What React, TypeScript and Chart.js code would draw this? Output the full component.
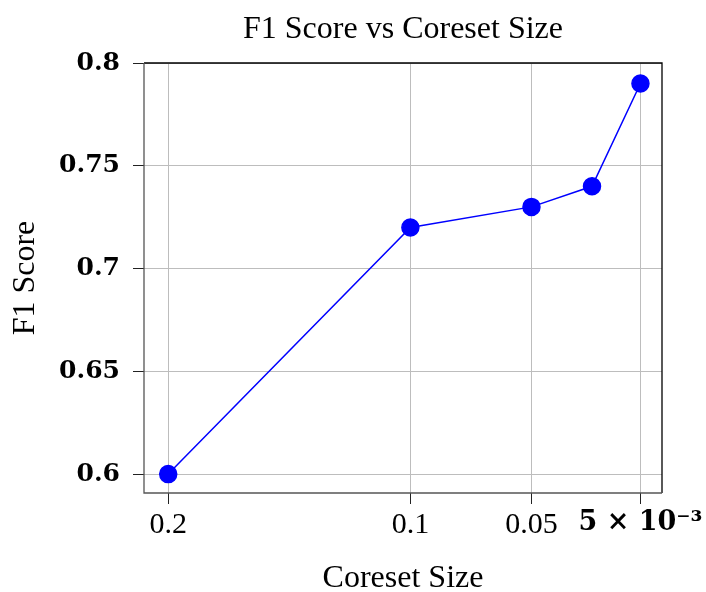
import React, { useEffect, useRef } from "react";
import { Chart, registerables } from "chart.js";

Chart.register(...registerables);

const chartTitle = "F1 Score vs Coreset Size";
const coresetSizes = [0.2, 0.1, 0.05, 0.025, 0.005];
const f1Scores = [0.6, 0.72, 0.73, 0.74, 0.79];
const xTickValues = [0.2, 0.1, 0.05, 0.005];
const xTickLabels = ["0.2", "0.1", "0.05", "5 × 10⁻³"];
const yTickValues = [0.6, 0.65, 0.7, 0.75, 0.8];
const yTickLabels = ["0.6", "0.65", "0.7", "0.75", "0.8"];

const frame = {
  id: "frame",
  afterDraw(chart: any) {
    const { ctx, chartArea: a } = chart;
    ctx.save();
    ctx.strokeStyle = "#000";
    ctx.lineWidth = 1.3;
    ctx.beginPath();
    ctx.moveTo(a.left, a.top);
    ctx.lineTo(a.right, a.top);
    ctx.lineTo(a.right, a.bottom);
    ctx.stroke();
    ctx.strokeStyle = "#555";
    ctx.beginPath();
    ctx.moveTo(a.left, a.top);
    ctx.lineTo(a.left, a.bottom);
    ctx.lineTo(a.right, a.bottom);
    ctx.stroke();
    ctx.fillStyle = "#000";
    ctx.font = "normal 32px 'Liberation Serif'";
    ctx.textAlign = "center";
    ctx.textBaseline = "middle";
    ctx.fillText(chartTitle, (a.left + a.right) / 2, 30);
    ctx.restore();
  },
};

export default function App() {
  const ref = useRef<HTMLCanvasElement>(null);
  useEffect(() => {
    document.body.style.margin = "0";
    const chart = new Chart(ref.current!, {
      type: "line",
      data: {
        datasets: [
          {
            data: coresetSizes.map((x, i) => ({ x, y: f1Scores[i] })),
            borderColor: "#0000ff",
            backgroundColor: "#0000ff",
            borderWidth: 1.5,
            pointRadius: 8.5,
            pointBackgroundColor: "#0000ff",
            pointBorderColor: "#0000ff",
            tension: 0,
          },
        ],
      },
      options: {
        responsive: false,
        animation: false,
        layout: { padding: { left: 0, right: 44, top: 63, bottom: 0 } },
        plugins: {
          legend: { display: false },
          tooltip: { enabled: false },
          title: { display: false },
        },
        scales: {
          x: {
            type: "linear",
            reverse: true,
            min: -0.0039,
            max: 0.21,
            afterFit: (s: any) => {
              s.height = 99;
              s.paddingLeft = 0;
              s.paddingRight = 0;
            },
            afterBuildTicks: (s: any) => {
              s.ticks = xTickValues.map((v) => ({ value: v }));
            },
            ticks: {
              autoSkip: false,
              maxRotation: 0,
              padding: 3,
              color: "#000",
              callback: (v: any) => {
                const i = xTickValues.indexOf(Number(v));
                return i >= 0 ? xTickLabels[i] : "";
              },
              font: (c: any) =>
                c.tick && c.tick.value === 0.005
                  ? { family: "DejaVu Serif", size: 27, weight: "bold" }
                  : { family: "Liberation Serif", size: 30, weight: "normal" },
            },
            grid: {
              color: "#bdbdbd",
              lineWidth: 1,
              tickLength: 11,
              tickColor: "#222",
            },
            border: { display: false },
            title: {
              display: true,
              text: "Coreset Size",
              color: "#000",
              font: { family: "Liberation Serif", size: 32, lineHeight: 0.85 },
              padding: { top: 0, bottom: 0 },
            },
          },
          y: {
            type: "linear",
            min: 0.5908,
            max: 0.8,
            afterFit: (s: any) => {
              s.width = 144;
              s.paddingTop = 0;
              s.paddingBottom = 0;
            },
            afterBuildTicks: (s: any) => {
              s.ticks = yTickValues.map((v) => ({ value: v }));
            },
            ticks: {
              padding: 13,
              color: "#000",
              font: { family: "DejaVu Serif", size: 25, weight: "bold" },
              callback: (v: any) => {
                const i = yTickValues.findIndex((t) => Math.abs(t - Number(v)) < 1e-9);
                return i >= 0 ? yTickLabels[i] : "";
              },
            },
            grid: {
              color: "#bdbdbd",
              lineWidth: 1,
              tickLength: 11,
              tickColor: "#222",
            },
            border: { display: false },
            title: {
              display: true,
              text: "F1 Score",
              color: "#000",
              font: { family: "Liberation Serif", size: 32, lineHeight: 1 },
              padding: { top: 10, bottom: 0 },
            },
          },
        },
      },
      plugins: [frame],
    });
    return () => chart.destroy();
  }, []);
  return (
    <div style={{ width: 706, height: 592 }}>
      <canvas ref={ref} width={706} height={592} style={{ width: 706, height: 592, display: "block" }} />
    </div>
  );
}
